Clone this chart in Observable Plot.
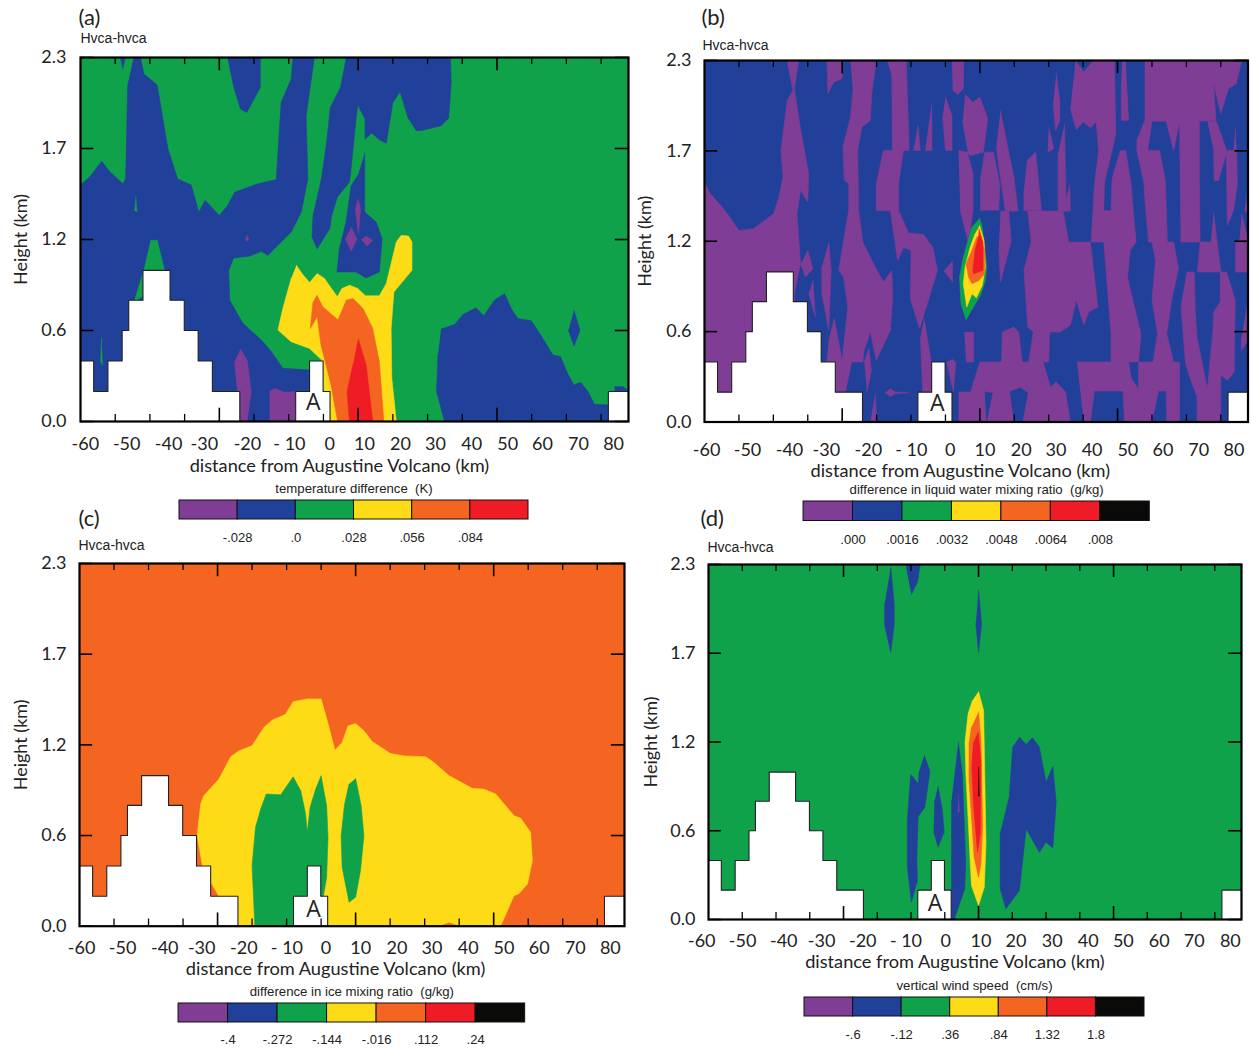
<!DOCTYPE html>
<html><head><meta charset="utf-8">
<script src="https://cdn.jsdelivr.net/npm/d3@7"></script>
<script src="https://cdn.jsdelivr.net/npm/@observablehq/plot@0.6"></script>
<style>
html,body{margin:0;padding:0;background:#fff;}
#root{position:relative;width:1251px;height:1048px;overflow:hidden;}
#root>svg,#root>figure{position:absolute;margin:0;}
text{white-space:pre;}
</style></head><body><div id="root"></div>
<script>
const PURPLE="#7f3d96",BLUE="#21409a",GREEN="#10a24b",YELLOW="#fedb17",ORANGE="#f46522",RED="#ef1c25",BLACK="#0a0a08";
const bandColors=[PURPLE,BLUE,GREEN,YELLOW,ORANGE,RED,BLACK];

// distance (km) and height (m)
const terrainLeft=[[-70,0],[-70,382],[-66.2,382],[-66.2,190],[-62.1,190],[-62.1,382],[-58,382],[-58,575],[-56.1,575],[-56.1,766],[-52,766],[-52,955],[-44.2,955],[-44.2,766],[-40.1,766],[-40.1,575],[-36.1,575],[-36.1,382],[-32,382],[-32,190],[-24.1,190],[-24.1,0]];
const terrainMid=[[-8,0],[-8,190],[-4,190],[-4,382],[-0.1,382],[-0.1,190],[1.9,190],[1.9,0]];
const terrainRight=[[82.1,0],[82.1,190],[87.9,190],[87.9,0]];

const minorTicks=[-60,-50,-40,-20,-10,0,20,30,40,60,70,80];
const majorTicks=[-30,10,50];
const heightTicks=[0,575,1150,1725,2300];
const heightLabels=["0.0","0.6","1.2","1.7","2.3"];
const distLabels=["-60","-50","-40","-30","-20","- 10","0","10","20","30","40","50","60","70","80"];
const distLabelKmA=[-68.6,-56.7,-44.6,-34.3,-21.9,-9.8,1.8,11.8,22.2,32.3,42.7,53.1,63.1,73.5,83.6];
const distLabelKmBC=[-69.4,-57.5,-45.3,-34.6,-22.4,-9.9,1.4,11.5,22,32.1,42.6,53,63.2,73.6,83.8];
const distLabelKmD=[-72,-59.9,-47.7,-36.5,-24.3,-11.5,0.3,10.7,21.1,31.8,42.5,52.9,63.5,73.9,84.6];

// ---- panel (a): temperature difference
const aBlue=[
[[-70,1495],[-67.4,1544],[-63.9,1644],[-61.6,1579],[-57.8,1502],[-57,1533],[-56.4,2121],[-54.6,2300],[-52.7,2300],[-51.7,2195],[-47.9,2127],[-44.8,1722],[-42,1533],[-38.1,1495],[-35.9,1323],[-34.1,1397],[-30,1302],[-27.6,1365],[-25.6,1449],[-18.9,1502],[-13.6,1529],[-12.2,2016],[-9.3,2163],[-8.8,2300],[-2.6,2300],[-5,1932],[-4.5,1533],[-6.4,1323],[-9.3,1197],[-16,1050],[-17.9,1075],[-21.3,1045],[-25.9,1033],[-27.3,955],[-27,766],[-23.2,620],[-17.9,515],[-15,441],[-11.7,336],[-3.8,325],[-3.8,0],[-70,0]],
[[-58.5,2300],[-57.8,2230],[-57.1,2300]],
[[-27.6,2300],[-25.8,2110],[-23.9,1974],[-22.1,1953],[-18.2,2110],[-18.2,2300]],
[[6.6,2300],[4.9,2110],[2,1985],[0.8,1743],[-0.6,1533],[-3,1302],[-3.3,1166],[-1.8,1092],[1.8,1218],[2.4,1302],[4,1418],[7.5,1512],[7.8,1564],[9.4,1911],[9.9,2000],[12,1911],[12,1785],[13.9,1823],[16.1,1781],[18.1,1758],[20,2016],[22.1,2083],[24.3,1922],[26.7,1838],[28.2,1838],[33.9,1869],[36.1,1917],[36.8,2142],[36.6,2300]],
[[11.9,1697],[11.9,1323],[15.2,1260],[16.9,1155],[16.1,945],[12.3,907],[9.4,945],[3.9,945],[4.6,1092],[6.5,1260],[8,1491],[9.9,1554]],
[[33.9,584],[37.8,613],[40.2,676],[44,718],[46.2,668],[49.3,767],[52.2,808],[54.1,714],[56,651],[59.9,636],[62.3,557],[66.1,420],[68.3,410],[70.3,305],[72.2,231],[74.1,248],[76.2,189],[78.1,109],[82,105],[82.1,0],[34.9,0],[32.6,189],[33,420]],
[[83.9,220],[86.3,220],[87.9,193],[83.9,180]],
[[72.2,703],[73.9,577],[72.2,477],[70.6,577]]];
const aGreenOver=[
[[-54,1422],[-54.4,1333],[-53.7,1329]],
[[-63.9,525],[-64.2,378],[-63.6,357]],
[[-49.8,1145],[-47.9,1145],[-45.8,955],[-45.8,900],[-54.6,750],[-51.8,955]]];
const aPurple=[
[[9.9,1407],[10.7,1344],[10.1,1187],[9.2,1344]],
[[8,1229],[9.6,1151],[8,1077],[6.3,1151]],
[[12.3,1172],[14.2,1145],[12.5,1107],[10.9,1151]],
[[-22,1176],[-21.5,1155],[-22,1138],[-22.5,1155]],
[[-23.9,458],[-22,389],[-20.8,189],[-22,0],[-23.9,0],[-25.6,378]],
[[-15.5,189],[-14.1,210],[-11.2,185],[-7.8,189],[-7.8,0],[-15.5,0]]];
const aYellow=[[[-7.8,987],[-6.2,935],[-4,878],[-1.8,935],[0.3,903],[4,788],[5.3,840],[7.5,861],[9.9,840],[12.1,794],[16.1,794],[18.1,871],[21,1134],[22.4,1176],[24.5,1172],[25.5,1134],[25.5,955],[20.3,819],[19.5,588],[19.7,273],[21,0],[2.2,0],[0.1,189],[-0.1,380],[-4,462],[-9.3,504],[-13.1,578],[-11.7,714],[-9.3,903]]];
const aOrange=[[[-1.9,798],[-0.2,725],[4.2,641],[6.6,767],[8.5,777],[11.4,714],[14.2,588],[16.1,378],[17.4,0],[4.1,0],[2.2,231],[-0.7,483],[-1.8,662],[-3.8,588],[-3,756]]];
const aRed=[[[10,525],[12.3,357],[14.2,0],[7.5,0],[6.8,189],[8.5,357]]];

// ---- panel (b): liquid water mixing ratio
const bPurple=[
[[-70,1526],[-68.3,1452],[-64.4,1357],[-60,1219],[-55.7,1230],[-49.9,1325],[-48.4,1431],[-47.2,1558],[-47.8,1728],[-46,2046],[-44.3,2109],[-46,2300],[-42.6,2300],[-43.9,2120],[-42.1,1866],[-39.7,1579],[-40,1399],[-42.1,1473],[-43.1,1325],[-42.1,1007],[-43.9,816],[-43.9,0],[-70,0]],
[[-40,1092],[-38.5,975],[-40.7,922],[-42,1007]],
[[-38.5,901],[-37.8,668],[-39.7,816]],
[[-34.4,2300],[-34.2,2088],[-32.5,2162],[-30,2184],[-30,2300]],
[[-33.9,1145],[-33.2,965],[-33.9,583],[-35.9,816],[-35.9,986]],
[[-27.6,2300],[-20.1,2300],[-21.4,2088],[-21.8,1919],[-24.3,1876],[-25.5,1728],[-25.2,1346],[-24,1145],[-21.4,1028],[-18,890],[-15.6,965],[-15.3,795],[-16,583],[-20.1,392],[-21.8,572],[-23.6,456],[-24,382],[-27.2,382],[-29.1,191],[-32,191],[-34.4,382],[-33.9,519],[-32.3,657],[-30,392],[-28.4,731],[-29.6,922],[-31,965],[-29.1,1219],[-28.1,1346],[-28.1,1516],[-29.4,1537],[-29.8,1749],[-27.6,1940],[-26.9,2109]],
[[-23.6,382],[-22.3,466],[-21.5,329],[-22.8,191]],
[[-16,212],[-14.6,191],[-10.7,186],[-14.6,180],[-16,163],[-17.5,186]],
[[-20.4,180],[-19.9,0],[-21.8,0]],
[[-17,2300],[-11.4,2300],[-10.5,1728],[-12.2,1728],[-13.6,1516],[-13.6,1346],[-10.7,1202],[-6.4,1194],[-3.7,1113],[-2.3,965],[-7.5,594],[-10.2,784],[-10,1092],[-12.2,1109],[-13.9,1028],[-16,1342],[-20.1,1346],[-20.1,1516],[-18,1728],[-15.4,1728],[-15.6,2205]],
[[-6.2,657],[-4.2,392],[-4.2,191],[-6.6,191],[-7.3,541]],
[[-8,1887],[-7.3,1728],[-9.3,1728]],
[[-4,2025],[-3.9,1728],[-5.9,1728]],
[[0,2067],[1.9,1950],[1.9,1728],[0,1728],[-0.8,1940]],
[[1.9,2300],[5.3,2300],[5.2,2120],[3.6,2084],[2.1,2109]],
[[5.7,2084],[8,2035],[10,2067],[12.3,1929],[11,1717],[7.3,1696],[6.7,1707],[5,1908]],
[[3.8,1728],[6.4,1717],[8,1579],[8,1346],[6.7,1138],[4.3,1346]],
[[2.1,1024],[-0.4,960],[2.1,890]],
[[5.5,572],[8.2,572],[8.2,382],[6,382]],
[[1.9,400],[3,382],[2.3,191],[0.4,382]],
[[-50.8,2300],[-49.9,2300],[-50.4,2280]],
[[3.9,0],[3.9,191],[7.3,191],[10,382],[16.3,382],[16.5,572],[19.9,604],[21.3,572],[22.3,382],[24.2,382],[25.5,572],[23.9,604],[22.8,965],[24.9,1145],[23.9,1342],[34.2,1342],[35.8,1145],[42.1,1145],[44.3,731],[41.6,700],[40.2,615],[38,774],[36.3,615],[33.4,572],[30.3,572],[30,382],[28.4,382],[30.5,223],[32.2,254],[34.9,191],[36.3,0]],
[[16,1342],[18.4,1342],[19.1,1151],[16,890],[15.5,1102]],
[[10.2,1346],[10.2,1548],[11.4,1717],[13.9,1717],[15.8,1516],[15.5,1346]],
[[16,1982],[17.9,1770],[19.9,1558],[21.1,1342],[17.4,1342],[15.5,1622],[14.8,1749]],
[[23.7,1664],[26.2,1717],[27.9,1346],[22.8,1346],[22.8,1473]],
[[32.2,2215],[33.2,2046],[33.2,1919],[32,1855],[31.3,2025]],
[[30,1876],[31.5,1738],[29.7,1717]],
[[34.6,1897],[35.1,1342],[32.7,1342],[32.7,1706]],
[[36.1,1516],[36.3,1342],[34.2,1342]],
[[51.3,2300],[52.3,2300],[53.2,1919],[51.1,1919],[51.1,2152]],
[[37.8,2300],[40.2,2226],[42.9,2300],[49.1,2300],[49.5,1834],[48.1,1696],[46.2,1520],[46,1346],[48.1,1346],[48.4,1548],[50.8,1728],[52.4,1728],[53.9,1516],[55.4,1145],[53.7,1092],[52.9,922],[54.7,753],[56.8,562],[56.1,382],[48.1,382],[48.1,562],[46,1145],[42.3,1145],[43.3,1516],[44.5,1728],[43.8,1908],[42.1,1872],[40,1908],[38,1859],[36.3,1993]],
[[38.2,382],[53.2,382],[54,276],[56.1,212],[56.1,382],[68,382],[68,0],[64.3,0],[64.1,197],[61.9,197],[60,0],[52,0],[51.6,197],[43.3,197],[42.1,0],[40.2,0]],
[[57.9,2300],[86.1,2300],[84.5,2152],[82.2,2120],[80,1961],[77.9,2152],[78.6,1919],[73.8,1914],[73.8,1516],[74,1145],[68.4,1145],[68,1908],[66.3,1728],[64.1,1914],[60,1914],[58.8,1728],[62.2,1728],[63.9,1537],[64.5,1145],[66.3,1145],[67.7,975],[65.8,784],[64.3,562],[66.3,382],[60.3,382],[61.6,562],[60,774],[61,1028],[60,1145],[59,1145],[58.1,1367],[57.6,1526],[55.6,1728],[55.6,1791],[57.9,1919]],
[[76.1,1914],[78.7,1914],[81.7,1728],[84.6,1728],[84.8,1516],[83.7,1346],[81.9,1251],[81.6,1707],[79.3,1537],[78.1,1533],[77.9,1728]],
[[84.2,1866],[84.5,1728],[83.7,1728]],
[[70.1,954],[72.3,954],[72.6,710],[73.1,541],[76.1,212],[77.7,583],[77.9,700],[79.8,763],[79.8,954],[81.7,954],[84.2,774],[83.9,318],[82,265],[80,297],[80,0],[73.1,0],[73.1,159],[70.6,307],[69.7,382],[68.4,742]],
[[77.9,1336],[80,954],[73.2,954],[74,1145],[77.1,1145]],
[[84.2,1145],[87.9,1145],[87.9,954],[84.2,954]],
[[86.1,1325],[87.9,1155],[85.4,1155]],
[[87.9,1484],[87.9,1325],[86.9,1346]],
[[87.9,784],[87.9,519],[86,456],[86,541]]];
const bBlueOver=[
[[11.4,191],[13.6,184],[11.9,0]],
[[18.7,191],[21.8,218],[23.9,184],[22.3,0],[19.9,0]]];
const bGreen=[[[9.9,1297],[10.7,1240],[12,986],[11.6,901],[10.2,806],[9,763],[7.3,700],[6,651],[4.5,753],[4.1,922],[5.2,1049],[7.7,1240]]];
const bYellow=[[[9.9,1251],[11.2,1155],[11.6,986],[10.7,869],[9,790],[7.7,816],[6.2,731],[5.2,880],[5.7,986],[7.2,1113],[8.6,1198]]];
const bOrange=[[[9.9,1190],[11.4,1092],[11.4,943],[9.7,901],[7.7,880],[6.7,922],[6,1007],[7.7,1092],[9.1,1176]]];
const bRed=[[[9.7,1230],[10.9,1145],[10.9,965],[8.2,943],[8,965],[8.6,1092],[9.6,1176]]];

// ---- panel (c): ice mixing ratio
const cYellow=[[[-23.8,0],[-29.6,190],[-32,279],[-34.4,384],[-35.9,574],[-34.9,774],[-34,827],[-29.6,933],[-26.2,1074],[-23.8,1112],[-20,1144],[-16.6,1260],[-14.2,1306],[-10.3,1344],[-8.1,1424],[-4,1441],[0,1441],[1.8,1302],[4,1116],[6.1,1165],[7.8,1270],[10,1285],[12.4,1239],[14.8,1171],[20.1,1095],[24,1080],[30.3,1074],[32.7,1038],[37.1,954],[43.8,874],[47.2,869],[50.6,838],[55.9,700],[57.8,686],[60.7,595],[61.2,416],[59.8,268],[57.3,205],[55.9,194],[52,0]]];
const cOrangeOver=[[[34.2,0],[37.1,21],[40,0]]];
const cGreen=[
[[-19.2,0],[-20,384],[-19,627],[-17.5,743],[-15.9,838],[-11.7,833],[-8.1,947],[-5.9,859],[-4.5,711],[-4,595],[-3.2,753],[-1.6,869],[0,954],[1.6,764],[2,563],[1.6,310],[0.6,184],[0.6,0]],
[[10,937],[11.6,764],[12.4,574],[11.4,352],[10,184],[8.1,152],[6.1,373],[5.8,574],[6.8,774],[8.1,901]]];

// ---- panel (d): vertical wind speed
const dBlue=[
[[-16,2283],[-15,2046],[-15,1905],[-16,1732],[-17.8,1905],[-17.8,2046]],
[[-11.6,2300],[-7.3,2300],[-8.1,2186],[-9.9,2106]],
[[10,2136],[10.9,1916],[10,1732],[9.2,1916]],
[[-6.1,1063],[-4.4,961],[-5.9,728],[-7.9,667],[-8.3,382],[-8.1,253],[-9.9,112],[-11.1,339],[-11.1,642],[-10.1,940],[-7.8,879],[-7.6,961]],
[[-2,862],[-0.7,706],[-0.2,566],[-2,469],[-3.2,566],[-3,771]],
[[4,1149],[5.2,944],[6.2,361],[5.9,199],[2.8,0],[1,0],[2,210],[2,771]],
[[22.1,1182],[24.1,1134],[26,1177],[28,1117],[30,890],[32,991],[33,760],[32,464],[30,501],[28,436],[24.1,588],[22.1,188],[18.1,69],[16.4,199],[16.4,555],[19.1,793],[20.1,1117]]];
const dPurple=[[[4,804],[4.3,696],[3.9,696]]];
const dYellow=[[[10,1477],[11.5,1354],[12.2,490],[11.7,210],[10,91],[7.9,220],[6.3,922],[6,1149],[6.9,1333],[8.2,1419]]];
const dOrange=[[[10,1344],[10.7,1160],[11.2,598],[10.7,361],[10,274],[8.7,404],[7.2,901],[7.2,1138],[7.9,1246]]];
const dRed=[[[9.9,1214],[10.7,1030],[10.5,555],[9.7,436],[8.5,750],[8,987],[8.5,1149]]];
const dBlack=[[[10,987],[10.2,800],[9.9,800]]];

// ---- legends
const legends=[
 {title:"temperature difference  (K)",edges:[-.056,-.028,0,.028,.056,.084,.112],labels:["-.028",".0",".028",".056",".084"],left:179,right:528,top:500,h:19,gap:13.5},
 {title:"difference in liquid water mixing ratio  (g/kg)",edges:[-.0016,0,.0016,.0032,.0048,.0064,.008,.0096],labels:[".000",".0016",".0032",".0048",".0064",".008"],left:802.7,right:1149,top:500.5,h:19.5,gap:13.5},
 {title:"difference in ice mixing ratio  (g/kg)",edges:[-.528,-.4,-.272,-.144,-.016,.112,.24,.368],labels:["-.4","-.272","-.144","-.016",".112",".24"],left:178.3,right:525,top:1003,h:19,gap:12.5},
 {title:"vertical wind speed  (cm/s)",edges:[-1.08,-.6,-.12,.36,.84,1.32,1.8,2.28],labels:["-.6","-.12",".36",".84","1.32","1.8"],left:804.3,right:1144.3,top:997,h:19,gap:13.5}
];

const SANS="Lato, 'Open Sans', sans-serif", ARIAL="'Liberation Sans', Arial, sans-serif";
const root=document.getElementById("root");
const rows=(polys)=>polys.flatMap((p,i)=>p.map(([x,y])=>({x,y,i})));
const layer=(polys,color)=>Plot.line(rows(polys),{x:"x",y:"y",z:"i",fill:color,stroke:color,strokeWidth:0.6,clip:true});

function panel(o){
  const {left,top,width,height,ml,mr,mt,mb}=o;
  const xMap=new Map(o.labelKm.map((k,i)=>[k,distLabels[i]]));
  const yMap=new Map(heightTicks.map((h,i)=>[h,heightLabels[i]]));
  const shortH=45, longH=84;
  const svg=Plot.plot({
    width,height,marginLeft:ml,marginRight:mr,marginTop:mt,marginBottom:mb,
    x:{domain:[-70,87.9]},y:{domain:[0,2300]},
    style:{background:"transparent",overflow:"visible",fontFamily:SANS},
    marks:[
      Plot.frame({fill:o.base,stroke:null}),
      ...o.layers.map(([p,c])=>layer(p,c)),
      ...[terrainLeft,terrainMid,terrainRight].map(t=>Plot.line(t,{x:"0",y:"1",fill:"white",stroke:"#222",strokeWidth:1.1,clip:true})),
      Plot.text(["A"],{x:o.a[0],y:o.a[1],text:d=>d,fontSize:23,fill:"#222",fontFamily:"'Open Sans',sans-serif"}),
      Plot.ruleX(minorTicks,{y1:0,y2:shortH,stroke:"#000",strokeWidth:1.3}),
      Plot.ruleX(minorTicks,{y1:2300-shortH,y2:2300,stroke:"#000",strokeWidth:1.3}),
      Plot.ruleX(majorTicks,{y1:0,y2:longH,stroke:"#000",strokeWidth:1.6}),
      Plot.ruleX(majorTicks,{y1:2300-longH,y2:2300,stroke:"#000",strokeWidth:1.6}),
      Plot.ruleY(heightTicks,{x1:-70,x2:-66.2,stroke:"#000",strokeWidth:1.6}),
      Plot.ruleY(heightTicks,{x1:84.1,x2:87.9,stroke:"#000",strokeWidth:1.6}),
      Plot.frame({stroke:"#000",strokeWidth:2.2}),
      Plot.axisX(o.labelKm,{tickSize:0,tickPadding:o.xpad,tickFormat:d=>xMap.get(d),fontSize:o.fs,label:null,fill:"#222"}),
      Plot.axisY(heightTicks,{tickSize:0,tickPadding:o.ypad,tickFormat:d=>yMap.get(d),fontSize:o.fs,label:"Height (km)",labelAnchor:"center",labelArrow:"none",labelOffset:o.yoff,fill:"#222"}),
      Plot.text(["distance from Augustine Volcano (km)"],{x:o.xlab,frameAnchor:"bottom",dy:o.xlabDy,text:d=>d,fontSize:18.2,lineAnchor:"middle",fill:"#222"}),
      Plot.text([o.tag],{frameAnchor:"top-left",dx:o.tagD[0],dy:o.tagD[1],text:d=>d,fontSize:22,textAnchor:"start",lineAnchor:"middle",fill:"#222"}),
      Plot.text(["Hvca-hvca"],{frameAnchor:"top-left",dx:o.hvD[0],dy:o.hvD[1],text:d=>d,fontSize:14,textAnchor:"start",lineAnchor:"middle",fontFamily:ARIAL,fill:"#222"})
    ]
  });
  svg.style.left=left+"px";svg.style.top=top+"px";
  root.appendChild(svg);
}

const FS=18;
panel({tag:"(a)",left:0,top:0,width:640,height:480,ml:80,mr:12,mt:57,mb:59,base:GREEN,
  layers:[[aBlue,BLUE],[aGreenOver,GREEN],[aPurple,PURPLE],[aYellow,YELLOW],[aOrange,ORANGE],[aRed,RED]],
  a:[-2.9,120],labelKm:distLabelKmA,xlab:4.6,xlabDy:45,xpad:15.5,ypad:14,yoff:66,fs:FS,tagD:[-2,-40],hvD:[0,-19]});
panel({tag:"(b)",left:625,top:0,width:626,height:480,ml:79,mr:3.5,mt:60,mb:58.5,base:BLUE,
  layers:[[bPurple,PURPLE],[bBlueOver,BLUE],[bGreen,GREEN],[bYellow,YELLOW],[bOrange,ORANGE],[bRed,RED]],
  a:[-2.4,120],labelKm:distLabelKmBC,xlab:4.3,xlabDy:49.5,xpad:21.5,ypad:13,yoff:66,fs:FS,tagD:[-3,-43],hvD:[-2,-15]});
panel({tag:"(c)",left:0,top:505,width:635,height:475,ml:79,mr:11,mt:58,mb:54.3,base:ORANGE,
  layers:[[cYellow,YELLOW],[cOrangeOver,ORANGE],[cGreen,GREEN]],
  a:[-2.2,106],labelKm:distLabelKmBC,xlab:4.2,xlabDy:43,xpad:15.5,ypad:13,yoff:65,fs:FS,tagD:[-1,-45],hvD:[-1,-18]});
panel({tag:"(d)",left:625,top:505,width:626,height:470,ml:83,mr:10,mt:59,mb:56,base:GREEN,
  layers:[[dBlue,BLUE],[dPurple,PURPLE],[dYellow,YELLOW],[dOrange,ORANGE],[dRed,RED],[dBlack,BLACK]],
  a:[-2.9,104],labelKm:distLabelKmD,xlab:3,xlabDy:43,xpad:15,ypad:13,yoff:64,fs:FS,tagD:[-8,-46],hvD:[-1,-17]});

legends.forEach(l=>{
  const pad=60, mt=24;
  const mb=Math.min(34,1048-l.top-l.h);
  const segs=l.edges.slice(0,-1).map((e,i)=>({a:e,b:l.edges[i+1],c:bandColors[i]}));
  const ticks=l.edges.slice(1,l.labels.length+1);
  const m=new Map(ticks.map((t,i)=>[t,l.labels[i]]));
  const w=l.right-l.left;
  const svg=Plot.plot({
    width:w+2*pad,height:l.h+mt+mb,marginLeft:pad,marginRight:pad,marginTop:mt,marginBottom:mb,
    x:{domain:[l.edges[0],l.edges[l.edges.length-1]]},y:{axis:null},
    style:{background:"transparent",overflow:"visible",fontFamily:ARIAL},
    marks:[
      Plot.rect(segs,{x1:"a",x2:"b",fill:"c",stroke:"#111",strokeWidth:1}),
      Plot.axisX(ticks,{tickSize:0,tickPadding:l.gap,tickFormat:d=>m.get(d),fontSize:13,label:null,fill:"#222"}),
      Plot.text([l.title],{frameAnchor:"top",dy:-7.5,text:d=>d,fontSize:13.2,lineAnchor:"bottom",fill:"#222"})
    ]
  });
  svg.style.left=(l.left-pad)+"px";svg.style.top=(l.top-mt)+"px";
  root.appendChild(svg);
});
</script></body></html>
